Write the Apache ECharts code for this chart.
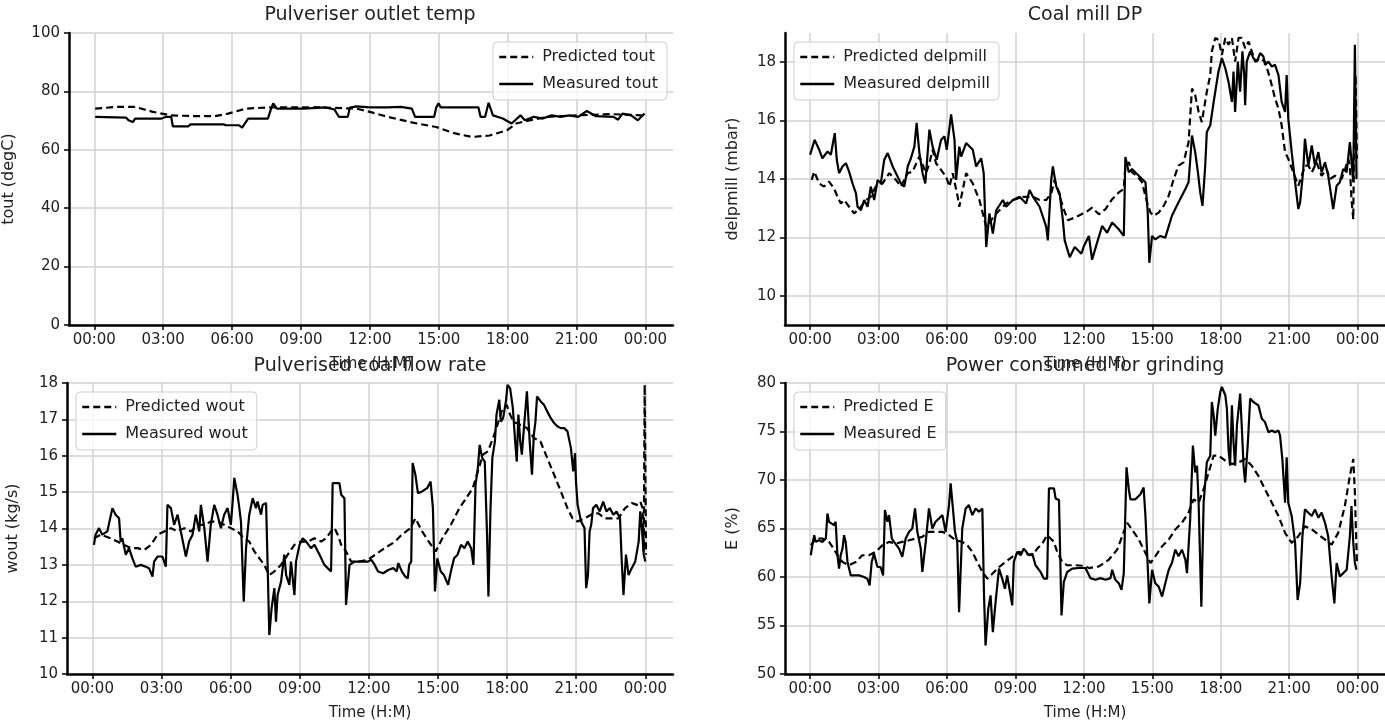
<!DOCTYPE html>
<html>
<head>
<meta charset="utf-8">
<script src="https://cdn.jsdelivr.net/npm/echarts@6/dist/echarts.min.js"></script>
<style>
html,body{margin:0;padding:0;background:#fff;}
#chart{width:1385px;height:725px;}
</style>
</head>
<body>
<div id="chart"></div>
<script>
// ---------- DATA (time in hours, value) ----------
const hourTicks = [0, 3, 6, 9, 12, 15, 18, 21, 24];
const titles = ["Pulveriser outlet temp", "Coal mill DP", "Pulverised coal flow rate", "Power consumed for grinding"];
const yNames = ["tout (degC)", "delpmill (mbar)", "wout (kg/s)", "E (%)"];
const xName = "Time (H:M)";
const toutTicks = [0, 20, 40, 60, 80, 100];
const delpTicks = [10, 12, 14, 16, 18];
const woutTicks = [10, 11, 12, 13, 14, 15, 16, 17, 18];
const eTicks = [50, 55, 60, 65, 70, 75, 80];

const toutPredicted = [[0.04,74.1],[1.0,74.7],[1.78,74.7],[2.55,73.0],[3.32,71.8],[4.48,71.5],[5.25,71.5],[5.83,72.4],[6.6,74.1],[7.56,74.5],[9.88,74.5],[11.42,74.1],[12.0,73.0],[12.77,71.3],[13.93,69.2],[14.89,67.8],[15.67,65.7],[16.44,64.4],[17.21,64.9],[17.98,66.7],[18.37,69.0],[18.95,70.1],[19.72,71.3],[21.07,71.8],[22.5,72.2],[23.96,71.8]];
const toutMeasured = [[0.04,71.3],[1.39,71.0],[1.49,70.1],[1.68,69.5],[1.78,70.7],[2.93,70.7],[3.13,71.3],[3.35,71.3],[3.42,68.0],[4.09,68.0],[4.19,68.7],[5.63,68.7],[5.73,68.4],[6.31,68.4],[6.44,67.6],[6.7,70.7],[7.56,70.7],[7.7,74.1],[7.79,75.9],[7.95,74.1],[9.11,74.1],[10.07,74.5],[10.46,73.8],[10.65,71.3],[11.04,71.3],[11.13,74.5],[11.42,74.9],[12.0,74.5],[12.77,74.5],[13.35,74.7],[13.83,74.1],[13.97,71.3],[14.8,71.3],[14.89,74.5],[14.99,75.9],[15.09,74.5],[16.73,74.5],[16.82,71.3],[17.02,71.3],[17.17,76.1],[17.36,71.8],[17.79,70.7],[18.17,69.0],[18.56,71.8],[18.75,70.1],[19.14,71.3],[19.53,70.7],[19.91,71.8],[20.3,71.3],[20.68,71.8],[21.07,71.3],[21.45,73.3],[21.84,71.5],[22.61,71.3],[22.81,70.3],[23.0,72.4],[23.38,71.8],[23.67,70.1],[23.96,72.4]];

const delpPredicted = [[0.07,13.97],[0.18,14.25],[0.4,13.85],[0.61,13.74],[0.83,13.91],[1.05,13.68],[1.2,13.39],[1.35,13.16],[1.49,13.28],[1.71,13.05],[1.93,12.82],[2.23,13.05],[2.45,13.28],[2.66,13.39],[2.88,13.74],[3.18,13.85],[3.47,14.2],[3.76,13.97],[3.98,13.74],[4.28,14.2],[4.49,14.25],[4.79,14.77],[5.08,14.2],[5.23,14.54],[5.37,15.0],[5.52,14.54],[5.74,14.31],[5.96,14.08],[6.11,13.74],[6.25,14.2],[6.47,13.39],[6.54,13.05],[6.84,14.2],[7.13,13.85],[7.42,13.28],[7.57,12.82],[7.72,12.36],[7.94,12.59],[8.16,12.82],[8.59,13.16],[8.89,13.28],[9.33,13.39],[9.77,13.39],[10.06,13.28],[10.35,13.28],[10.57,13.51],[10.72,13.97],[10.86,13.62],[11.08,13.05],[11.3,12.59],[11.67,12.7],[11.96,12.82],[12.07,12.85],[12.36,13.02],[12.66,12.79],[12.95,12.97],[13.24,13.31],[13.53,13.54],[13.75,13.66],[13.82,14.46],[13.97,14.57],[14.11,14.23],[14.33,14.11],[14.55,13.89],[14.77,13.2],[14.92,12.85],[15.06,12.74],[15.28,12.85],[15.5,13.08],[15.72,13.43],[15.94,14.0],[16.15,14.46],[16.37,14.57],[16.59,15.26],[16.74,17.1],[16.88,16.87],[17.03,16.3],[17.17,15.95],[17.39,16.99],[17.54,17.56],[17.61,18.37],[17.76,18.83],[17.9,18.77],[18.05,18.25],[18.2,18.83],[18.34,18.6],[18.49,18.83],[18.63,18.02],[18.78,18.83],[18.92,18.83],[19.07,18.48],[19.22,18.71],[19.36,18.37],[19.51,18.02],[19.73,18.14],[19.94,18.02],[20.16,17.45],[20.38,16.76],[20.53,16.41],[20.67,15.84],[20.82,14.92],[20.96,14.69],[21.18,14.23],[21.4,13.77],[21.55,14.11],[21.69,14.46],[21.84,14.46],[21.99,14.23],[22.2,14.57],[22.42,14.11],[22.64,14.34],[22.79,14.0],[23.01,14.11],[23.3,14.0],[23.45,14.34],[23.59,14.69],[23.66,14.46],[23.73,13.31],[23.81,12.62],[23.85,15.84],[23.91,17.56],[23.97,14.69]];
const delpMeasured = [[0.0,14.83],[0.2,15.34],[0.4,15.0],[0.54,14.71],[0.76,14.94],[0.91,14.83],[1.08,15.57],[1.17,14.66],[1.27,14.2],[1.42,14.43],[1.57,14.54],[1.71,14.25],[1.86,13.85],[2.01,13.51],[2.08,13.05],[2.23,12.93],[2.37,13.28],[2.52,13.05],[2.66,13.74],[2.81,13.28],[2.96,13.97],[3.1,13.85],[3.25,14.66],[3.4,14.89],[3.62,14.43],[3.98,13.85],[4.13,13.74],[4.28,14.43],[4.42,14.71],[4.57,15.11],[4.67,15.92],[4.79,14.89],[4.93,14.2],[5.05,13.85],[5.23,15.69],[5.37,15.11],[5.55,14.66],[5.74,15.34],[5.89,15.46],[5.99,15.0],[6.18,16.21],[6.33,15.34],[6.4,13.97],[6.54,15.11],[6.62,14.77],[6.84,15.23],[7.13,15.0],[7.28,14.43],[7.5,14.71],[7.61,14.2],[7.72,11.67],[7.86,12.82],[8.01,12.13],[8.16,12.93],[8.45,13.28],[8.59,13.05],[8.89,13.28],[9.18,13.39],[9.47,13.16],[9.62,13.62],[9.77,13.39],[10.06,13.05],[10.35,12.36],[10.42,11.9],[10.57,13.97],[10.64,14.43],[10.79,13.74],[10.94,13.51],[11.08,12.59],[11.16,11.9],[11.38,11.32],[11.6,11.67],[11.89,11.44],[12.0,11.7],[12.22,12.05],[12.36,11.24],[12.58,11.82],[12.8,12.39],[13.02,12.16],[13.24,12.51],[13.53,12.28],[13.75,12.05],[13.82,14.75],[13.97,14.23],[14.11,14.34],[14.33,14.17],[14.55,14.0],[14.7,13.89],[14.8,12.85],[14.87,11.13],[14.99,12.05],[15.13,11.93],[15.35,12.05],[15.57,11.99],[15.86,12.74],[16.15,13.2],[16.45,13.66],[16.59,13.89],[16.74,15.49],[16.88,14.92],[17.0,14.23],[17.1,13.54],[17.2,13.08],[17.32,14.46],[17.39,15.61],[17.54,15.84],[17.69,16.64],[17.9,17.68],[18.05,18.14],[18.2,17.79],[18.34,17.33],[18.49,16.64],[18.56,17.68],[18.63,16.3],[18.75,18.02],[18.85,16.99],[18.95,18.37],[19.03,17.56],[19.07,16.53],[19.14,18.02],[19.29,18.37],[19.43,18.14],[19.58,18.02],[19.73,18.31],[19.87,18.2],[19.94,17.91],[20.09,18.02],[20.24,17.85],[20.38,17.91],[20.53,17.56],[20.67,16.64],[20.82,16.3],[20.89,17.56],[20.96,16.07],[21.11,14.92],[21.26,13.89],[21.4,12.97],[21.48,13.2],[21.62,14.34],[21.69,15.38],[21.84,14.46],[21.99,15.15],[22.13,14.46],[22.28,14.92],[22.42,14.23],[22.57,14.57],[22.71,14.11],[22.93,12.97],[23.08,13.77],[23.22,13.89],[23.37,14.34],[23.52,14.23],[23.66,15.26],[23.81,13.89],[23.88,18.6],[23.95,14.0]];

const woutPredicted = [[0.07,13.73],[0.36,13.83],[0.8,13.73],[1.09,13.64],[1.38,13.55],[1.67,13.46],[1.96,13.46],[2.25,13.41],[2.54,13.55],[2.83,13.83],[3.12,13.92],[3.41,14.01],[3.7,13.92],[3.99,14.01],[4.28,13.92],[4.57,14.1],[4.86,14.1],[5.14,14.19],[5.43,14.19],[5.72,14.1],[6.01,14.01],[6.3,13.92],[6.59,13.73],[6.81,13.64],[7.03,13.37],[7.25,13.18],[7.46,13.0],[7.68,12.72],[7.9,12.82],[8.19,13.0],[8.48,13.28],[8.77,13.55],[9.06,13.64],[9.35,13.64],[9.64,13.73],[9.93,13.64],[10.14,13.73],[10.36,13.92],[10.51,14.01],[10.65,13.83],[10.8,13.55],[11.01,13.37],[11.23,13.09],[11.52,13.09],[11.96,13.14],[12.69,13.46],[13.14,13.64],[13.43,13.83],[13.8,14.01],[14.02,14.28],[14.31,13.92],[14.6,13.64],[14.9,13.37],[15.19,13.73],[15.56,14.1],[15.93,14.56],[16.22,14.83],[16.51,15.11],[16.73,15.57],[16.95,16.03],[17.17,16.12],[17.39,16.49],[17.54,16.76],[17.76,17.22],[17.98,17.4],[18.13,17.13],[18.27,16.94],[18.57,16.85],[18.86,16.76],[19.16,16.49],[19.45,16.39],[19.74,15.94],[20.04,15.48],[20.33,15.02],[20.62,14.56],[20.84,14.28],[21.06,14.19],[21.36,14.28],[21.65,14.38],[21.95,14.42],[22.24,14.28],[22.53,14.28],[22.83,14.28],[23.12,14.56],[23.41,14.7],[23.63,14.65],[23.78,14.74],[23.88,14.56],[23.93,13.37],[23.97,17.95],[24.03,13.28]];
const woutMeasured = [[0.07,13.55],[0.14,13.83],[0.29,14.01],[0.43,13.83],[0.65,13.92],[0.87,14.56],[1.01,14.38],[1.16,14.28],[1.23,13.64],[1.3,13.73],[1.45,13.28],[1.59,13.46],[1.74,13.18],[1.88,12.95],[2.1,13.0],[2.32,12.95],[2.46,12.91],[2.61,12.68],[2.68,13.09],[2.83,13.23],[3.04,13.23],[3.19,12.95],[3.26,14.65],[3.41,14.56],[3.55,14.1],[3.7,14.38],[3.84,13.92],[4.06,13.23],[4.2,13.64],[4.35,13.83],[4.49,14.38],[4.64,13.92],[4.71,14.65],[4.86,14.01],[5.0,13.09],[5.14,14.1],[5.29,14.65],[5.43,14.38],[5.58,14.01],[5.72,14.38],[5.87,14.56],[6.01,14.1],[6.09,14.74],[6.16,15.39],[6.3,14.93],[6.38,14.56],[6.45,14.19],[6.57,11.99],[6.67,13.46],[6.81,14.38],[6.96,14.83],[7.1,14.56],[7.17,14.74],[7.32,14.38],[7.39,14.65],[7.54,14.7],[7.61,12.91],[7.68,11.07],[7.78,11.81],[7.9,12.36],[7.97,11.44],[8.04,12.17],[8.19,12.54],[8.33,13.28],[8.41,12.72],[8.55,12.45],[8.62,13.09],[8.77,12.17],[8.84,13.09],[8.99,13.55],[9.13,13.73],[9.28,13.64],[9.49,13.46],[9.64,13.55],[9.86,13.28],[10.07,13.0],[10.36,12.82],[10.43,15.25],[10.72,15.25],[10.8,14.93],[10.94,14.83],[11.01,11.9],[11.16,13.0],[11.38,13.09],[11.67,13.09],[11.96,13.09],[12.11,13.14],[12.25,13.0],[12.4,12.82],[12.62,12.77],[12.84,12.86],[13.06,12.91],[13.21,12.82],[13.28,13.05],[13.43,12.82],[13.58,12.68],[13.69,12.63],[13.75,13.0],[13.84,13.09],[13.9,15.8],[14.02,15.48],[14.13,14.97],[14.31,15.02],[14.53,15.11],[14.68,15.29],[14.78,14.56],[14.87,12.27],[14.97,13.18],[15.12,12.82],[15.26,12.72],[15.44,12.45],[15.56,12.82],[15.7,13.18],[15.85,13.28],[16.0,13.55],[16.15,13.46],[16.29,13.64],[16.44,13.46],[16.54,13.0],[16.63,15.2],[16.73,15.66],[16.81,16.3],[16.92,15.94],[17.03,15.84],[17.13,13.83],[17.19,12.13],[17.28,14.56],[17.36,15.94],[17.47,16.39],[17.54,17.13],[17.66,17.54],[17.73,16.94],[17.83,17.04],[17.95,17.5],[18.02,17.95],[18.13,17.86],[18.25,17.31],[18.35,16.39],[18.42,15.84],[18.49,17.13],[18.57,16.39],[18.64,16.03],[18.74,16.85],[18.86,17.77],[18.98,16.39],[19.08,15.48],[19.16,16.58],[19.23,16.94],[19.3,17.63],[19.45,17.5],[19.6,17.4],[19.74,17.22],[19.89,17.04],[20.04,16.9],[20.18,16.81],[20.33,16.76],[20.48,16.76],[20.62,16.67],[20.77,16.21],[20.87,15.57],[20.95,16.07],[20.99,15.29],[21.06,14.65],[21.21,14.19],[21.36,14.01],[21.43,12.36],[21.51,12.72],[21.58,13.92],[21.65,14.1],[21.73,14.56],[21.87,14.65],[22.02,14.47],[22.17,14.74],[22.31,14.47],[22.46,14.56],[22.61,14.38],[22.75,14.47],[22.9,14.28],[22.97,13.18],[23.05,12.17],[23.16,13.28],[23.27,12.72],[23.41,12.91],[23.56,13.09],[23.71,13.64],[23.78,14.47],[23.85,14.01],[23.93,13.28],[24.0,13.09]];

const ePredicted = [[0.03,63.28],[0.25,63.97],[0.54,63.97],[0.83,63.62],[0.98,63.1],[1.2,62.24],[1.42,61.55],[1.71,61.21],[2.0,61.55],[2.29,62.24],[2.58,62.24],[2.88,62.59],[3.17,63.28],[3.46,63.62],[3.75,63.45],[4.04,63.62],[4.34,63.79],[4.63,63.97],[4.92,64.14],[5.21,64.66],[5.5,64.66],[5.8,64.66],[6.09,64.31],[6.38,63.79],[6.67,63.62],[6.89,63.28],[7.11,62.59],[7.33,61.55],[7.55,60.52],[7.77,59.83],[7.99,60.34],[8.28,61.03],[8.57,61.55],[8.86,62.07],[9.15,62.59],[9.45,62.41],[9.74,62.24],[9.96,62.93],[10.18,63.45],[10.39,64.31],[10.54,63.97],[10.69,63.62],[10.83,62.59],[11.05,61.55],[11.27,61.21],[11.64,61.21],[12.07,61.14],[12.22,60.92],[12.66,61.09],[13.09,61.78],[13.46,62.82],[13.68,64.2],[13.9,65.59],[14.11,64.9],[14.41,63.86],[14.7,62.47],[14.92,61.44],[15.13,62.13],[15.43,63.17],[15.72,63.86],[16.01,64.9],[16.3,65.59],[16.59,66.63],[16.81,68.01],[17.03,67.66],[17.25,69.05],[17.47,70.78],[17.69,72.51],[17.9,72.51],[18.2,71.99],[18.49,71.64],[18.78,71.82],[19.07,72.16],[19.36,71.47],[19.65,70.43],[19.94,69.05],[20.24,67.66],[20.53,66.28],[20.82,64.55],[21.11,63.51],[21.4,64.2],[21.69,65.24],[21.99,64.9],[22.28,64.38],[22.57,63.86],[22.86,63.34],[23.15,64.55],[23.44,67.32],[23.66,70.43],[23.81,72.16],[23.88,68.7],[23.92,65.24],[23.97,61.5]];
const eMeasured = [[0.03,62.24],[0.1,63.28],[0.18,64.31],[0.25,63.62],[0.39,63.79],[0.54,63.62],[0.69,63.97],[0.76,66.55],[0.83,65.69],[0.91,65.52],[1.05,65.34],[1.12,65.69],[1.2,62.24],[1.27,60.86],[1.34,62.24],[1.42,62.93],[1.49,64.31],[1.56,63.62],[1.64,61.55],[1.78,60.17],[1.93,60.17],[2.15,60.17],[2.36,60.0],[2.51,59.83],[2.61,59.14],[2.7,61.55],[2.8,62.41],[2.95,61.03],[3.09,61.03],[3.2,60.17],[3.28,66.9],[3.39,65.69],[3.46,66.38],[3.58,63.97],[3.68,63.62],[3.9,62.93],[4.04,62.07],[4.19,63.97],[4.34,64.66],[4.48,65.0],[4.6,67.07],[4.7,64.66],[4.85,62.93],[4.92,60.52],[5.07,63.62],[5.21,67.07],[5.36,65.0],[5.5,65.69],[5.65,66.03],[5.8,66.38],[5.94,64.66],[6.09,67.41],[6.16,69.66],[6.26,67.07],[6.35,64.66],[6.45,63.62],[6.53,56.38],[6.67,65.0],[6.82,67.07],[6.96,67.41],[7.11,66.38],[7.26,67.07],[7.4,66.72],[7.55,67.07],[7.62,58.45],[7.69,52.93],[7.81,56.72],[7.91,58.1],[8.01,54.31],[8.13,57.41],[8.28,60.86],[8.42,59.83],[8.54,58.79],[8.64,60.17],[8.86,57.07],[8.93,61.55],[9.08,62.59],[9.23,62.24],[9.37,62.93],[9.59,62.24],[9.74,62.41],[9.88,61.21],[10.1,60.52],[10.25,59.83],[10.39,59.83],[10.47,69.14],[10.69,69.14],[10.76,68.1],[10.91,67.93],[11.02,56.03],[11.12,59.48],[11.27,60.52],[11.49,60.86],[11.78,60.93],[12.07,60.93],[12.29,59.88],[12.51,59.71],[12.73,59.88],[12.95,59.71],[13.17,59.88],[13.24,60.74],[13.38,59.71],[13.53,59.36],[13.65,58.67],[13.75,60.4],[13.87,71.3],[13.97,69.05],[14.04,68.01],[14.26,68.01],[14.48,68.53],[14.62,69.22],[14.7,66.28],[14.8,61.09],[14.87,57.28],[14.99,60.74],[15.13,59.36],[15.28,59.01],[15.43,57.98],[15.57,59.36],[15.72,60.74],[15.86,61.44],[16.01,62.82],[16.15,62.13],[16.3,62.82],[16.45,61.78],[16.52,60.4],[16.66,65.93],[16.78,73.55],[16.88,70.78],[16.96,71.47],[17.03,67.66],[17.15,56.94],[17.25,67.66],[17.39,71.82],[17.54,72.51],[17.61,78.04],[17.69,76.66],[17.76,74.58],[17.87,77.35],[17.98,79.08],[18.05,79.6],[18.2,78.74],[18.27,77.35],[18.34,73.2],[18.41,71.47],[18.49,77.7],[18.56,73.89],[18.63,71.47],[18.71,75.62],[18.85,78.91],[18.92,75.62],[19.0,71.47],[19.07,69.74],[19.19,73.89],[19.29,78.39],[19.43,78.04],[19.65,77.7],[19.8,76.31],[19.94,75.97],[20.09,74.93],[20.24,75.1],[20.38,74.93],[20.53,75.1],[20.6,74.58],[20.7,72.16],[20.82,67.66],[20.89,72.34],[20.96,67.66],[21.11,66.28],[21.26,63.51],[21.37,57.63],[21.48,59.36],[21.58,64.2],[21.69,66.97],[21.84,66.63],[21.99,66.28],[22.13,66.97],[22.28,66.11],[22.42,66.63],[22.57,65.59],[22.71,64.2],[22.86,60.05],[22.98,57.28],[23.08,61.44],[23.22,60.05],[23.37,60.4],[23.52,60.74],[23.66,64.2],[23.73,67.32],[23.81,63.51],[23.88,61.44],[23.95,60.74]];

// ---------- CHART ----------
const FONT = "DejaVu Sans";
const TXT = "#222";
const fmtHour = v => String(Math.round(v) % 24).padStart(2, "0") + ":00";

const grids = [
  {left: 67, top: 33, width: 606, height: 292},
  {left: 785, top: 33, width: 600, height: 292},
  {left: 67, top: 383, width: 606, height: 291},
  {left: 785, top: 383, width: 600, height: 291}
];

const splitLine = {show: true, lineStyle: {color: "#d2d2d2", width: 1.5}};
const axisLine = {show: true, onZero: false, lineStyle: {color: "#000", width: 2.5}};
const axisTick = (vals) => ({show: true, length: 5, lineStyle: {color: "#000", width: 1.5}, customValues: vals});

const xAxes = grids.map((g, i) => ({
  type: "value", gridIndex: i, min: -1.1, max: 25.2,
  axisLine, axisTick: axisTick(hourTicks), splitLine,
  axisLabel: {customValues: hourTicks, formatter: fmtHour, color: TXT, fontFamily: FONT, fontSize: 15, margin: 8},
  name: xName, nameLocation: "middle", nameGap: 32,
  nameTextStyle: {color: TXT, fontFamily: FONT, fontSize: 15}
}));

const yDefs = [
  {min: 0, max: 100, ticks: toutTicks, gap: 52},
  {min: 9, max: 19, ticks: delpTicks, gap: 44},
  {min: 10, max: 18, ticks: woutTicks, gap: 46},
  {min: 50, max: 80, ticks: eTicks, gap: 44}
];
const yAxes = yDefs.map((d, i) => ({
  type: "value", gridIndex: i, min: d.min, max: d.max,
  axisLine, axisTick: axisTick(d.ticks), splitLine,
  axisLabel: {customValues: d.ticks, color: TXT, fontFamily: FONT, fontSize: 15, margin: 9},
  name: yNames[i], nameLocation: "middle", nameRotate: 90, nameGap: d.gap,
  nameTextStyle: {color: TXT, fontFamily: FONT, fontSize: 16}
}));

const seriesDefs = [
  ["Predicted tout", toutPredicted, 0, true], ["Measured tout", toutMeasured, 0, false],
  ["Predicted delpmill", delpPredicted, 1, true], ["Measured delpmill", delpMeasured, 1, false],
  ["Predicted wout", woutPredicted, 2, true], ["Measured wout", woutMeasured, 2, false],
  ["Predicted E", ePredicted, 3, true], ["Measured E", eMeasured, 3, false]
];
const series = seriesDefs.map(([name, data, idx, dashed]) => ({
  name, type: "line", data, xAxisIndex: idx, yAxisIndex: idx,
  symbol: "none", showSymbol: false, silent: true,
  color: "#000",
  lineStyle: {color: "#000", width: 2.2, type: dashed ? [7, 4] : "solid"}
}));

const legendPos = [
  {left: 493, top: 42}, {left: 794, top: 42}, {left: 76, top: 392}, {left: 794, top: 392}
];
const legends = legendPos.map((p, i) => ({
  left: p.left, top: p.top, orient: "vertical",
  data: [seriesDefs[2 * i][0], seriesDefs[2 * i + 1][0]],
  itemWidth: 34, itemHeight: 14, itemGap: 11,
  padding: [7, 9, 8, 5],
  borderColor: "#cfcfcf", borderWidth: 1, borderRadius: 4,
  backgroundColor: "rgba(255,255,255,0.8)",
  selectedMode: false,
  itemStyle: {opacity: 0},
  lineStyle: {width: 2.5},
  textStyle: {color: TXT, fontFamily: FONT, fontSize: 16, padding: [0, 0, 0, 4]}
}));

const titlePos = [[370, 15], [1085, 15], [370, 366], [1085, 366]];
const graphic = titles.map((t, i) => ({
  type: "text", x: titlePos[i][0], y: titlePos[i][1], z: 100,
  style: {text: t, fill: TXT, font: "19px '" + FONT + "'", textAlign: "center", textVerticalAlign: "middle"}
}));

const chart = echarts.init(document.getElementById("chart"), null, {renderer: "canvas"});
chart.setOption({
  animation: false,
  backgroundColor: "#fff",
  grid: grids,
  xAxis: xAxes,
  yAxis: yAxes,
  legend: legends,
  series,
  graphic
});
</script>
</body>
</html>
